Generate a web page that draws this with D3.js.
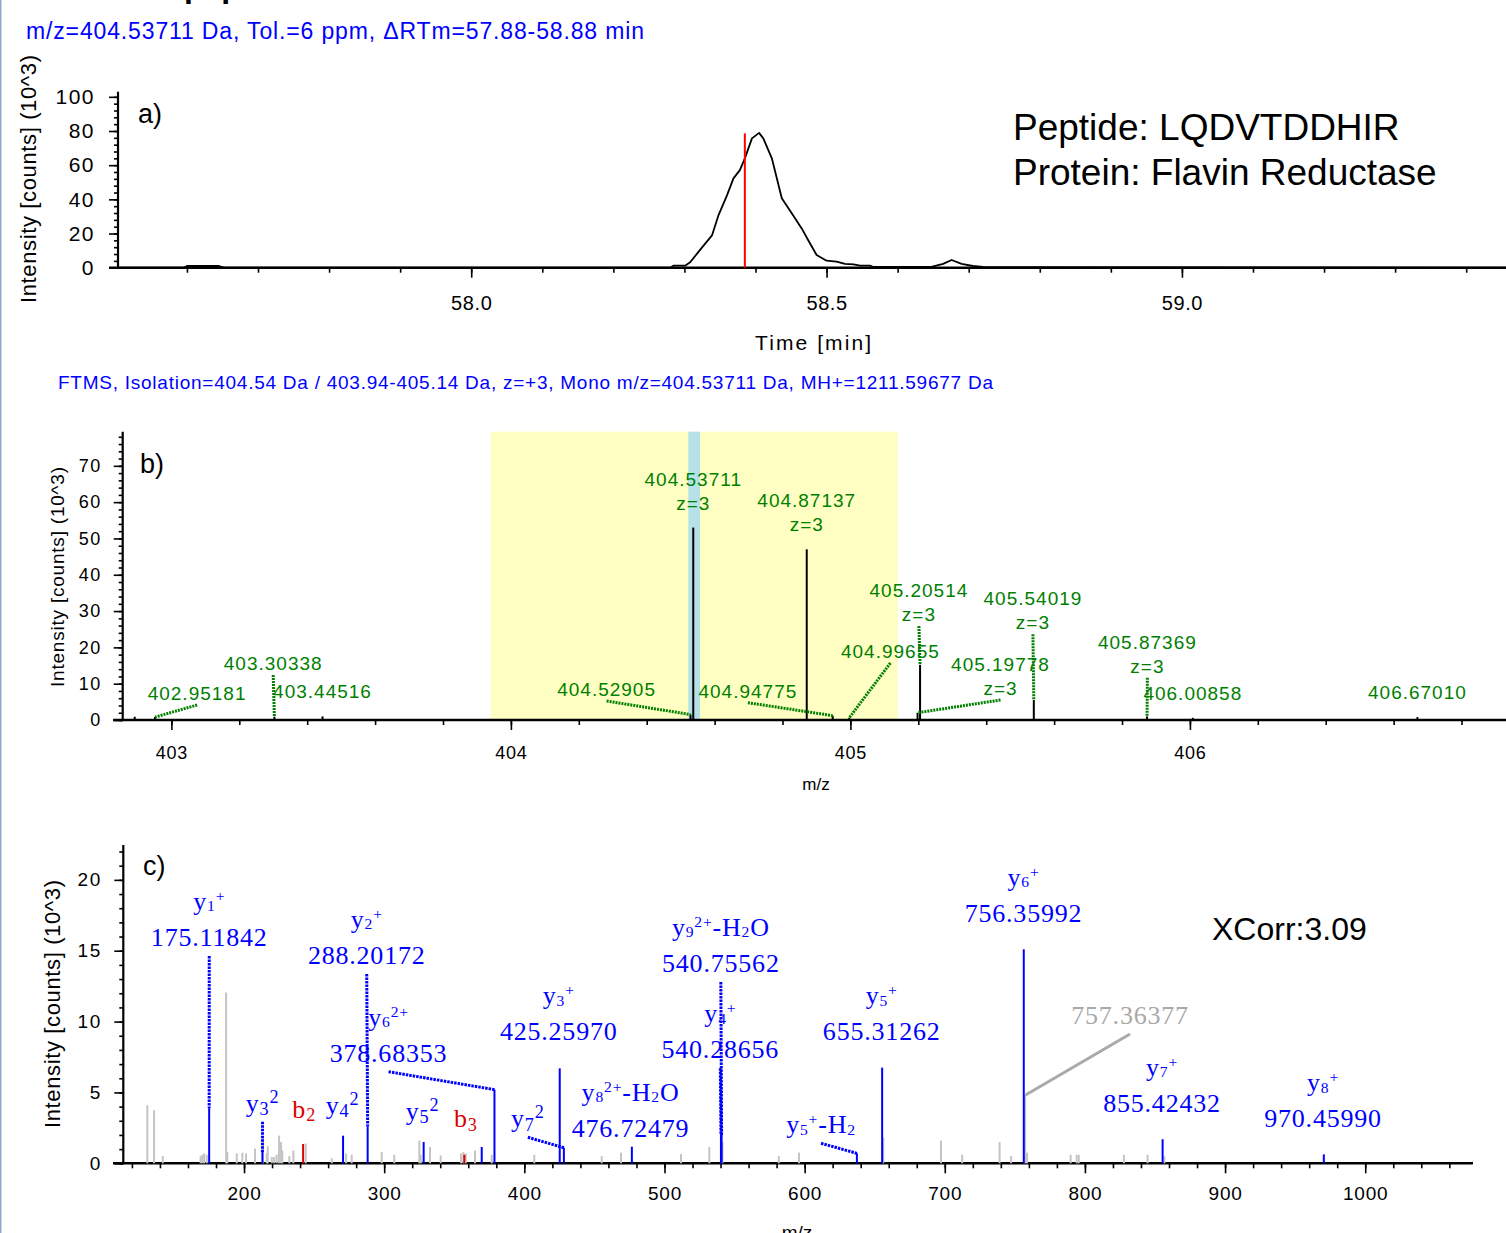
<!DOCTYPE html>
<html>
<head>
<meta charset="utf-8">
<script src="https://cdn.jsdelivr.net/npm/d3@7"></script>
<style>
  body { margin: 0; background: #fff; }
  svg { display: block; font-family: "Liberation Sans", Arial, sans-serif; }
</style>
</head>
<body>
<svg id="chart" width="1506" height="1233"></svg>
<script>
// ---------- data: a) extracted ion chromatogram ----------
const chromTime = [57.503, 57.595, 57.600, 57.645, 57.652, 58.280, 58.2845, 58.301, 58.308, 58.322,
  58.339, 58.348, 58.360, 58.369, 58.378, 58.385, 58.395, 58.405, 58.411, 58.423, 58.437, 58.451,
  58.465, 58.474, 58.486, 58.500, 58.514, 58.526, 58.538, 58.547, 58.561, 58.566, 58.646, 58.664,
  58.676, 58.690, 58.706, 58.720, 59.456];
const chromInt = [0, 0, 1.0, 1.0, 0, 0, 1.2, 1.2, 3.2, 10.4,
  19.1, 30.8, 42.5, 52.3, 57.1, 64.0, 75.7, 78.9, 75.7, 64.0, 40.6, 31.8,
  23.0, 16.2, 7.4, 4.1, 3.5, 2.2, 2.0, 1.2, 1.2, 0.4, 0.4, 2.2,
  4.5, 2.2, 1.0, 0.4, 0];
const ms2Time = 58.385;
const ms2Mark = 78.6;
const timeTicks = [58.0, 58.5, 59.0];

// ---------- data: b) full MS around precursor ----------
const isoWindow = [403.94, 405.14];
const monoBand = [404.5225, 404.5570];
const ms1Mz  = [402.892, 402.95181, 403.30338, 403.44516, 404.52905, 404.53711, 404.87137, 404.94775,
  404.99655, 405.19778, 405.20514, 405.54019, 405.87369, 406.00858, 406.67010];
const ms1Int = [0.9, 0.8, 0.9, 1.0, 1.5, 53.0, 47.0, 1.2,
  0.6, 2.0, 15.2, 5.5, 1.0, 0.6, 0.8];
const ms1Label = ["", "402.95181", "403.30338", "403.44516", "404.52905", "404.53711", "404.87137", "404.94775",
  "404.99655", "405.19778", "405.20514", "405.54019", "405.87369", "406.00858", "406.67010"];
const ms1Charge = [0, 0, 0, 0, 0, 3, 3, 0, 0, 3, 3, 3, 3, 0, 0];

// ---------- data: c) MS2 spectrum ----------
const bgMz  = [131.0, 135.8, 142.0, 169.0, 170.2, 171.5, 173.4, 187.2, 188.1, 194.8, 198.8, 201.4,
  207.8, 213.4, 216.2, 216.9, 219.8, 221.5, 223.3, 225.0, 226.4, 227.3, 232.3, 235.2, 244.0, 262.6,
  272.8, 276.8, 298.2, 307.2, 325.1, 326.1, 332.7, 340.3, 354.8, 356.5, 358.2, 364.8, 376.7, 407.1,
  455.2, 469.0, 511.8, 532.0, 541.4, 581.6, 596.0, 656.1, 697.3, 712.4, 739.1, 747.3, 758.7, 789.8,
  794.1, 795.6, 827.8, 844.7, 856.7];
const bgInt = [4.1, 3.75, 0.5, 0.5, 0.6, 0.7, 0.6, 12.05, 0.8, 0.7, 0.75, 0.7,
  1.05, 1.9, 0.7, 1.2, 0.45, 0.45, 0.6, 1.95, 1.5, 0.9, 0.5, 0.9, 1.4, 0.35,
  0.7, 0.6, 0.8, 0.6, 1.6, 0.6, 1.15, 0.55, 0.7, 0.8, 0.7, 0.9, 0.6, 0.6,
  0.5, 0.75, 0.65, 1.15, 1.5, 0.5, 0.75, 1.8, 1.6, 0.6, 1.5, 0.5, 0.75, 0.6,
  0.6, 0.6, 0.6, 0.6, 0.5];

// ion name markup: _{..} subscript, ^{..} superscript
const ionName = ["y_{1}^{+}", "y_{3}^{2}", "b_{2}", "y_{4}^{2}", "y_{2}^{+}", "y_{5}^{2}", "b_{3}", "",
  "y_{6}^{2+}", "y_{3}^{+}", "y_{7}^{2}", "y_{8}^{2+}-H_{2}O", "y_{4}^{+}", "y_{9}^{2+}-H_{2}O",
  "y_{5}^{+}-H_{2}", "y_{5}^{+}", "y_{6}^{+}", "", "y_{7}^{+}", "y_{8}^{+}"];
const ionMz = [175.11842, 213.13, 242.15, 270.65, 288.20172, 328.16, 357.18, 369.6,
  378.68353, 425.25970, 428.216, 476.72479, 540.28656, 540.75562,
  637.302, 655.31262, 756.35992, 757.36377, 855.42432, 970.45990];
const ionInt = [3.9, 0.8, 1.36, 1.95, 2.6, 1.5, 0.6, 1.15,
  5.2, 6.7, 1.1, 1.17, 2.0, 2.0,
  0.7, 6.75, 15.1, 4.8, 1.7, 0.63];
const ionKind = ["y", "y", "b", "y", "y", "y", "b", "y",
  "y", "y", "y", "y", "y", "y",
  "y", "y", "y", "none", "y", "y"];
const ionShowMz = [1, 0, 0, 0, 1, 0, 0, 0, 1, 1, 0, 1, 1, 1, 0, 1, 1, 1, 1, 1];
const xcorr = 3.09;

// ---------- layout (label anchors in data units, last baseline) ----------
const ms1LabelAt = [null, [403.0757, 5.51], [403.2999, 13.77], null, [404.2819, 6.61], null, null,
  [404.6981, 6.14], [405.1178, 17.08], [405.4421, 6.89], [405.2018, 27.27], [405.5376, 24.99],
  [405.8748, 13.03], null, null];
const ionLabelAt = [[175.17, 15.34], [213.2, 3.64], [242.95, 3.20], [270.28, 3.48], [287.55, 14.07],
  [327.36, 3.06], [358.26, 2.54], null, [303.1, 7.17], [424.54, 8.70], [402.50, 2.54], [475.78, 1.88],
  [539.85, 7.41], [540.21, 13.50], [611.7, 2.12], [655.0, 8.70], [756.19, 17.05], [832.2, 9.83],
  [855.0, 3.64], [969.9, 2.54]];
const ionLink = [1, 1, 0, 0, 1, 0, 0, 0, 1, 0, 1, 0, 1, 1, 1, 0, 0, 1, 0, 0];

const svg = d3.select("#chart");
const BLUE = "#0000ff", GREEN = "#008000", RED = "#dd0000", GREY = "#c4c4c4";

// left frame line of the page
svg.append("line").attr("x1", 0.75).attr("x2", 0.75).attr("y1", 0).attr("y2", 1233)
  .attr("stroke", "#8fa9c9").attr("stroke-width", 1.5);

// clipped report title at very top
svg.append("text").attr("x", 184).attr("y", -2.7).attr("font-size", 32).attr("font-weight", "bold").text("pep");

function fitText(sel, w) {
  sel.attr("textLength", w).attr("lengthAdjust", "spacing");
  return sel;
}

function drawAxes(g, x, y, opt) {
  // x ticks
  const xa = g.append("g").attr("transform", `translate(0,${opt.y0})`);
  xa.call(d3.axisBottom(x).tickValues(opt.xMinor).tickSize(5).tickFormat(""));
  const xm = g.append("g").attr("transform", `translate(0,${opt.y0})`);
  xm.call(d3.axisBottom(x).tickValues(opt.xMajor).tickSize(10).tickPadding(opt.xPad).tickFormat(opt.xFmt));
  // y ticks
  const ya = g.append("g").attr("transform", `translate(${opt.x0},0)`);
  ya.call(d3.axisLeft(y).tickValues(opt.yMinor).tickSize(4).tickFormat(""));
  const ym = g.append("g").attr("transform", `translate(${opt.x0},0)`);
  ym.call(d3.axisLeft(y).tickValues(opt.yMajor).tickSize(9).tickPadding(opt.yPad).tickFormat(d3.format("d")));
  g.selectAll(".domain").remove();
  g.selectAll(".tick line").attr("stroke", "#000").attr("stroke-width", 1.6);
  g.selectAll(".tick text").attr("fill", "#000").attr("font-family", "Liberation Sans, Arial, sans-serif");
  xm.selectAll("text").attr("font-size", opt.xFs).attr("letter-spacing", opt.xLs);
  ym.selectAll("text").attr("font-size", opt.yFs).attr("letter-spacing", opt.yLs);
  // axis lines
  g.append("line").attr("x1", opt.xLine[0]).attr("x2", opt.xLine[1]).attr("y1", opt.y0).attr("y2", opt.y0)
    .attr("stroke", "#000").attr("stroke-width", 2.5);
  g.append("line").attr("x1", opt.x0).attr("x2", opt.x0).attr("y1", y.range()[1]).attr("y2", opt.y0)
    .attr("stroke", "#000").attr("stroke-width", 2.2);
}

function yTitle(g, cx, cy, fs, len) {
  fitText(g.append("text").attr("transform", `translate(${cx},${cy}) rotate(-90)`)
    .attr("text-anchor", "middle").attr("dominant-baseline", "central")
    .attr("font-size", fs).text("Intensity [counts] (10^3)"), len);
}

// rich label with subscripts / superscripts
function richText(g, str, x, y, size, color, ls) {
  const t = g.append("text").attr("x", x).attr("y", y).attr("text-anchor", "middle")
    .attr("fill", color).attr("font-size", size).attr("letter-spacing", ls)
    .attr("font-family", "Liberation Serif, 'Times New Roman', serif");
  const parts = str.match(/_\{[^}]*\}|\^\{[^}]*\}|[^_^]+/g) || [];
  // charge-state labels use smaller indices than the plain "y3 2" style
  const small = str.indexOf("+") >= 0;
  const k = small ? 0.6 : 0.7;
  let shift = 0;
  parts.forEach(p => {
    let target = 0, fs = size, txt = p;
    if (p[0] === "_") { target = small ? 1.5 : 3.5; fs = k * size; txt = p.slice(2, -1); }
    else if (p[0] === "^") { target = small ? -9 : -9; fs = k * size; txt = p.slice(2, -1); }
    t.append("tspan").attr("dy", target - shift).attr("font-size", fs).text(txt);
    shift = target;
  });
  return t;
}

// ================= panel a =================
const gA = svg.append("g");
fitText(gA.append("text").attr("x", 26).attr("y", 39).attr("font-size", 23).attr("fill", BLUE)
  .text("m/z=404.53711 Da, Tol.=6 ppm, \u0394RTm=57.88-58.88 min"), 618);

const xA = d3.scaleLinear().domain([57.503, 59.456]).range([118, 1506]);
const yA = d3.scaleLinear().domain([0, 103]).range([267.7, 91.7]);

drawAxes(gA, xA, yA, {
  y0: 267.7, x0: 118, xLine: [109, 1506],
  xMinor: d3.range(57.6, 59.45, 0.1), xMajor: timeTicks, xFmt: d3.format(".1f"), xPad: 18, xFs: 20, xLs: 0.6,
  yMinor: d3.range(0, 101, 4), yMajor: d3.range(0, 101, 20), yPad: 14, yFs: 21, yLs: 1.5
});
gA.append("path").datum(chromTime.map((t, i) => [t, chromInt[i]]))
  .attr("fill", "none").attr("stroke", "#000").attr("stroke-width", 1.8).attr("stroke-linejoin", "round")
  .attr("d", d3.line().x(d => xA(d[0])).y(d => yA(d[1])));
gA.append("line").attr("x1", xA(ms2Time)).attr("x2", xA(ms2Time)).attr("y1", yA(0)).attr("y2", yA(ms2Mark))
  .attr("stroke", "#ff0000").attr("stroke-width", 2);

gA.append("text").attr("x", 138).attr("y", 123).attr("font-size", 27).text("a)");
gA.append("text").attr("x", 1013).attr("y", 140).attr("font-size", 37).text("Peptide: LQDVTDDHIR");
gA.append("text").attr("x", 1013).attr("y", 185).attr("font-size", 37).text("Protein: Flavin Reductase");
fitText(gA.append("text").attr("x", 813).attr("y", 350).attr("text-anchor", "middle").attr("font-size", 21)
  .text("Time [min]"), 116);
yTitle(gA, 28, 179, 22, 248);

// ================= panel b =================
const gB = svg.append("g");
fitText(gB.append("text").attr("x", 58).attr("y", 389).attr("font-size", 19).attr("fill", BLUE)
  .text("FTMS, Isolation=404.54 Da / 403.94-405.14 Da, z=+3, Mono m/z=404.53711 Da, MH+=1211.59677 Da"), 935);

const xB = d3.scaleLinear().domain([402.828, 406.931]).range([113, 1506]);
const yB = d3.scaleLinear().domain([0, 79.4]).range([720, 431.7]);

gB.append("rect").attr("x", xB(isoWindow[0])).attr("width", xB(isoWindow[1]) - xB(isoWindow[0]))
  .attr("y", yB(79.4)).attr("height", yB(0) - yB(79.4)).attr("fill", "#ffffc4");
gB.append("rect").attr("x", xB(monoBand[0])).attr("width", xB(monoBand[1]) - xB(monoBand[0]))
  .attr("y", yB(79.4)).attr("height", yB(0) - yB(79.4)).attr("fill", "#b4e2e8");

drawAxes(gB, xB, yB, {
  y0: 720, x0: 122.7, xLine: [113, 1506],
  xMinor: d3.range(403, 406.85, 0.2), xMajor: [403, 404, 405, 406], xFmt: d3.format("d"), xPad: 16, xFs: 18, xLs: 0.8,
  yMinor: d3.range(0, 79, 2), yMajor: d3.range(0, 71, 10), yPad: 12, yFs: 18, yLs: 1.5
});

// sticks
gB.selectAll(".stick").data(ms1Mz).join("line")
  .attr("x1", d => xB(d)).attr("x2", d => xB(d))
  .attr("y1", yB(0)).attr("y2", (d, i) => yB(ms1Int[i]))
  .attr("stroke", "#000").attr("stroke-width", 2);

// labels + connectors
const labB = gB.append("g").attr("fill", GREEN).attr("font-size", 19).attr("letter-spacing", 1)
  .attr("text-anchor", "middle");
ms1Mz.forEach((mz, i) => {
  if (!ms1Label[i]) return;
  const px = xB(mz), top = yB(ms1Int[i]);
  const at = ms1LabelAt[i];
  const lx = at ? xB(at[0]) : px;
  const ly = at ? yB(at[1]) : top - 18;
  if (at) {
    gB.append("line").attr("x1", lx).attr("y1", ly + 5).attr("x2", px).attr("y2", top)
      .attr("stroke", GREEN).attr("stroke-width", 3).attr("stroke-dasharray", "2,1");
  }
  if (ms1Charge[i]) {
    labB.append("text").attr("x", lx).attr("y", ly - 24).text(ms1Label[i]);
    labB.append("text").attr("x", lx).attr("y", ly).text("z=" + ms1Charge[i]);
  } else {
    labB.append("text").attr("x", lx).attr("y", ly).text(ms1Label[i]);
  }
});

gB.append("text").attr("x", 140).attr("y", 473).attr("font-size", 27).text("b)");
gB.append("text").attr("x", 816).attr("y", 790).attr("text-anchor", "middle").attr("font-size", 17).text("m/z");
yTitle(gB, 57, 577, 19, 220);

// ================= panel c =================
const gC = svg.append("g");
const xC = d3.scaleLinear().domain([106.5, 1076.9]).range([113, 1473]);
const yC = d3.scaleLinear().domain([0, 22.46]).range([1163.3, 845]);

drawAxes(gC, xC, yC, {
  y0: 1163.3, x0: 123.3, xLine: [113, 1473],
  xMinor: d3.range(120, 1061, 20), xMajor: d3.range(200, 1001, 100), xFmt: d3.format("d"), xPad: 13.4, xFs: 19, xLs: 0.8,
  yMinor: d3.range(0, 23, 1), yMajor: d3.range(0, 21, 5), yPad: 12.6, yFs: 19, yLs: 1.5
});

// unassigned peaks
gC.selectAll(".bg").data(bgMz).join("line")
  .attr("x1", d => xC(d)).attr("x2", d => xC(d))
  .attr("y1", yC(0)).attr("y2", (d, i) => yC(bgInt[i]))
  .attr("stroke", GREY).attr("stroke-width", 2);

const ionColor = k => k === "b" ? RED : (k === "y" ? BLUE : "#a8a8a8");
const stickColor = k => k === "b" ? RED : (k === "y" ? BLUE : GREY);
// draw grey labelled first so blue stays on top
const order = d3.range(ionMz.length).sort((a, b) => (ionKind[a] === "none" ? -1 : 0) - (ionKind[b] === "none" ? -1 : 0));
order.forEach(i => {
  gC.append("line").attr("x1", xC(ionMz[i])).attr("x2", xC(ionMz[i]))
    .attr("y1", yC(0)).attr("y2", yC(ionInt[i]))
    .attr("stroke", stickColor(ionKind[i])).attr("stroke-width", 2);
});

// connectors
order.forEach(i => {
  const at = ionLabelAt[i];
  if (!at || !ionLink[i]) return;
  gC.append("line").attr("x1", xC(at[0])).attr("y1", yC(at[1]) + 10)
    .attr("x2", xC(ionMz[i])).attr("y2", yC(ionInt[i]))
    .attr("stroke", ionKind[i] === "none" ? "#aaaaaa" : BLUE).attr("stroke-width", 3)
    .attr("stroke-dasharray", ionKind[i] === "none" ? null : "2.5,1");
});

// labels
ionMz.forEach((mz, i) => {
  const at = ionLabelAt[i];
  if (!at) return;
  const lx = xC(at[0]), ly = yC(at[1]);
  const col = ionColor(ionKind[i]);
  if (ionShowMz[i]) {
    gC.append("text").attr("x", lx).attr("y", ly).attr("text-anchor", "middle").attr("fill", col)
      .attr("font-size", 26).attr("letter-spacing", 0.8)
      .attr("font-family", "Liberation Serif, 'Times New Roman', serif").text(d3.format(".5f")(mz));
    if (ionName[i]) richText(gC, ionName[i], lx, ly - 36, 26, col, 0.8);
  } else {
    richText(gC, ionName[i], lx, ly, 26, col, 0.8);
  }
});

gC.append("text").attr("x", 143).attr("y", 875).attr("font-size", 27).text("c)");
gC.append("text").attr("x", 1212).attr("y", 940).attr("font-size", 32).text("XCorr:" + xcorr.toFixed(2));
gC.append("text").attr("x", 797).attr("y", 1239).attr("text-anchor", "middle").attr("font-size", 19).text("m/z");
yTitle(gC, 52, 1004, 22, 248);
</script>
</body>
</html>
